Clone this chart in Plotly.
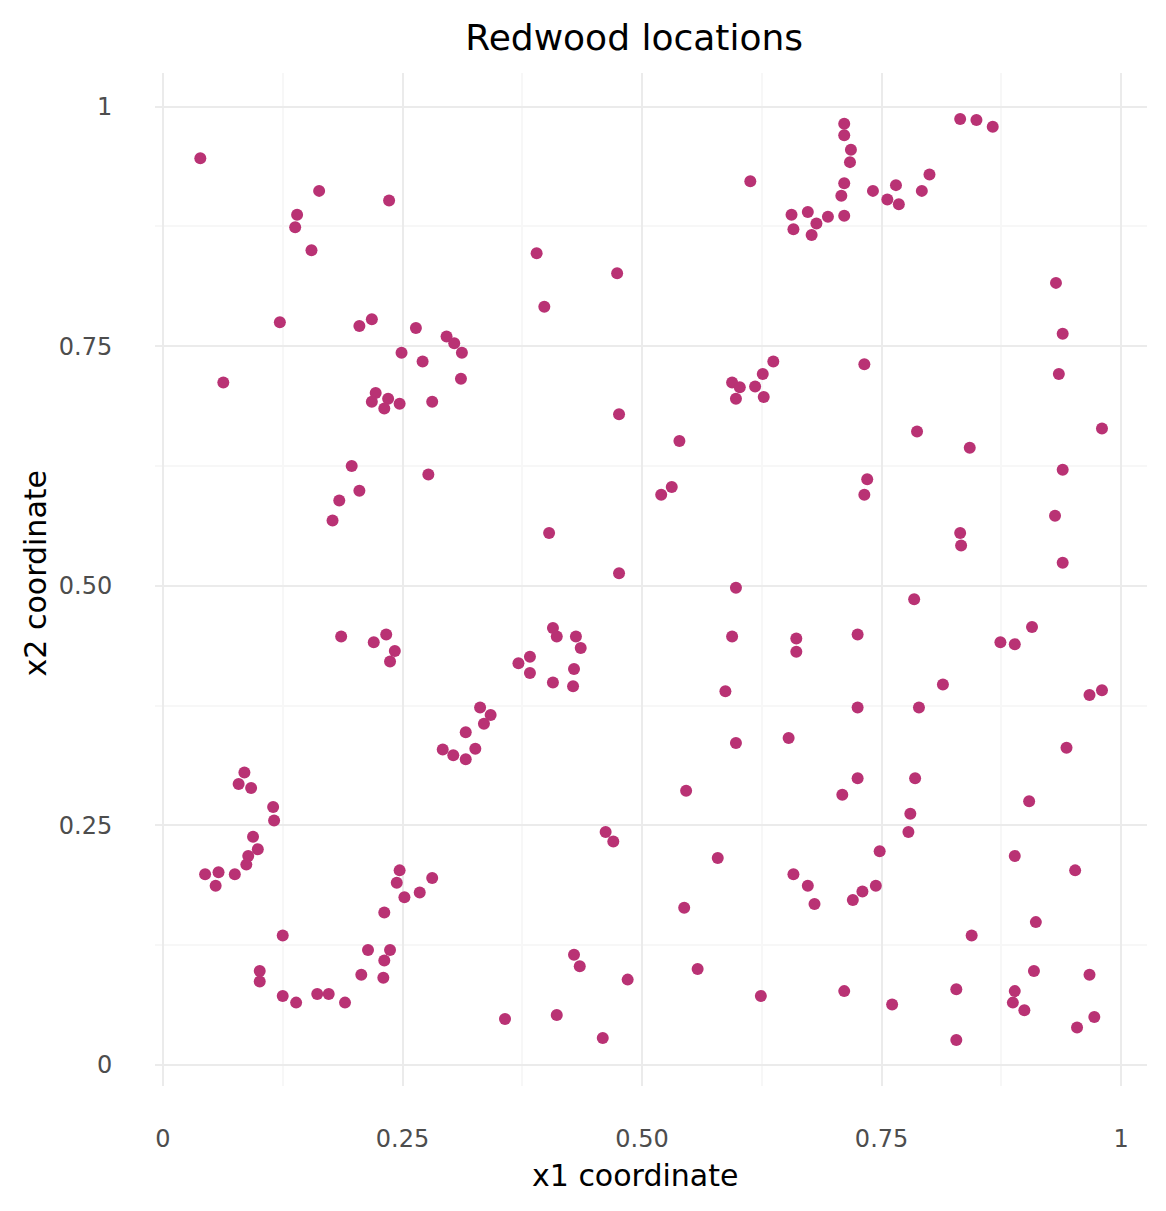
import plotly.graph_objects as go

# redwood locations
x1_top_left = [0.039, 0.163, 0.140, 0.138, 0.155, 0.236, 0.122, 0.063, 0.205, 0.218,
               0.264, 0.296, 0.304, 0.312, 0.249, 0.271, 0.311, 0.222, 0.218, 0.235,
               0.231, 0.247, 0.281, 0.197, 0.277, 0.184, 0.205, 0.177]
x2_top_left = [0.946, 0.912, 0.887, 0.874, 0.850, 0.902, 0.775, 0.712, 0.771, 0.778,
               0.769, 0.760, 0.753, 0.743, 0.743, 0.734, 0.716, 0.701, 0.692, 0.695,
               0.685, 0.690, 0.692, 0.625, 0.616, 0.589, 0.599, 0.568]

x1_mid_left = [0.186, 0.220, 0.233, 0.242, 0.237, 0.331, 0.335, 0.342, 0.316, 0.292,
               0.303, 0.326, 0.316]
x2_mid_left = [0.447, 0.441, 0.449, 0.432, 0.421, 0.373, 0.356, 0.365, 0.347, 0.329,
               0.323, 0.330, 0.319]

x1_centre = [0.539, 0.531, 0.520, 0.403, 0.476, 0.598, 0.407, 0.411, 0.431, 0.436,
             0.383, 0.371, 0.383, 0.429, 0.407, 0.428, 0.594, 0.661, 0.661, 0.587,
             0.598, 0.653]
x2_centre = [0.651, 0.603, 0.595, 0.555, 0.513, 0.498, 0.456, 0.447, 0.447, 0.435,
             0.426, 0.419, 0.409, 0.413, 0.399, 0.395, 0.447, 0.445, 0.431, 0.390,
             0.336, 0.341]

x1_top_mid = [0.613, 0.390, 0.474, 0.398, 0.637, 0.626, 0.594, 0.602, 0.618, 0.598,
              0.627, 0.476]
x2_top_mid = [0.922, 0.847, 0.826, 0.791, 0.734, 0.721, 0.712, 0.707, 0.708, 0.695,
              0.697, 0.679]

x1_top_right = [0.656, 0.673, 0.658, 0.677, 0.682, 0.694, 0.711, 0.708, 0.711, 0.717,
                0.718, 0.711, 0.711, 0.741, 0.756, 0.765, 0.768, 0.792, 0.800, 0.832,
                0.849, 0.866, 0.932, 0.939, 0.935, 0.732, 0.980]
x2_top_right = [0.887, 0.890, 0.872, 0.866, 0.878, 0.885, 0.886, 0.907, 0.920, 0.942,
                0.955, 0.970, 0.982, 0.912, 0.903, 0.918, 0.898, 0.912, 0.929, 0.987,
                0.986, 0.979, 0.816, 0.763, 0.721, 0.731, 0.664]

x1_mid_right = [0.787, 0.842, 0.939, 0.735, 0.732, 0.931, 0.832, 0.833, 0.939, 0.784,
                0.725, 0.874, 0.889, 0.907, 0.814, 0.967, 0.980, 0.725, 0.789, 0.943]
x2_mid_right = [0.661, 0.644, 0.621, 0.611, 0.595, 0.573, 0.555, 0.542, 0.524, 0.486,
                0.449, 0.441, 0.439, 0.457, 0.397, 0.386, 0.391, 0.373, 0.373, 0.331]

x1_low_left = [0.085, 0.079, 0.092, 0.115, 0.116, 0.094, 0.099, 0.089, 0.087, 0.075,
               0.058, 0.044, 0.055, 0.125, 0.101, 0.101, 0.125, 0.139, 0.161, 0.173,
               0.190, 0.207, 0.214, 0.237, 0.231, 0.230, 0.231, 0.247, 0.244, 0.252,
               0.268, 0.281]
x2_low_left = [0.305, 0.293, 0.289, 0.269, 0.255, 0.238, 0.225, 0.218, 0.209, 0.199,
               0.201, 0.199, 0.187, 0.135, 0.098, 0.087, 0.072, 0.065, 0.074, 0.074,
               0.065, 0.094, 0.120, 0.120, 0.109, 0.091, 0.159, 0.203, 0.190, 0.175,
               0.180, 0.195]

x1_low_mid = [0.546, 0.462, 0.470, 0.579, 0.544, 0.429, 0.435, 0.485, 0.558, 0.624,
              0.357, 0.411, 0.459]
x2_low_mid = [0.286, 0.243, 0.233, 0.216, 0.164, 0.115, 0.103, 0.089, 0.100, 0.072,
              0.048, 0.052, 0.028]

x1_low_right = [0.725, 0.709, 0.785, 0.780, 0.778, 0.748, 0.744, 0.730, 0.720, 0.658,
                0.673, 0.680, 0.904, 0.889, 0.952, 0.911, 0.844, 0.909, 0.967, 0.711,
                0.761, 0.828, 0.889, 0.887, 0.899, 0.972, 0.954, 0.828]
x2_low_right = [0.299, 0.282, 0.299, 0.262, 0.243, 0.223, 0.187, 0.181, 0.172, 0.199,
                0.187, 0.168, 0.275, 0.218, 0.203, 0.149, 0.135, 0.098, 0.094, 0.077,
                0.063, 0.079, 0.077, 0.065, 0.057, 0.050, 0.039, 0.026]

tick_vals = [0, 0.25, 0.5, 0.75, 1]
tick_text = ["0", "0.25", "0.50", "0.75", "1"]

x1 = (x1_top_left + x1_mid_left + x1_centre + x1_top_mid + x1_top_right
      + x1_mid_right + x1_low_left + x1_low_mid + x1_low_right)
x2 = (x2_top_left + x2_mid_left + x2_centre + x2_top_mid + x2_top_right
      + x2_mid_right + x2_low_left + x2_low_mid + x2_low_right)

fig = go.Figure(go.Scatter(x=x1, y=x2, mode="markers",
                           marker=dict(size=12, color="#B93274", line=dict(width=0)),
                           showlegend=False))

axis_style = dict(tickvals=tick_vals, ticktext=tick_text,
                  showgrid=True, gridcolor="#EBEBEB", gridwidth=2,
                  zeroline=False, showline=False,
                  ticks="outside", tickcolor="rgba(0,0,0,0)",
                  tickfont=dict(family="DejaVu Sans", size=24, color="#4D4D4D"),
                  minor=dict(tickvals=[0.125, 0.375, 0.625, 0.875], showgrid=True,
                             gridcolor="#F7F7F7", gridwidth=1.5, ticks=""),
                  automargin=False)

fig.update_xaxes(range=[-0.0083, 1.027], ticklen=31, **axis_style)
fig.update_yaxes(range=[-0.022, 1.035], ticklen=37, **axis_style)

# page body has an 8px margin, so the figure is a bit smaller than the window
fig.update_layout(
    width=1158, height=1203,
    margin=dict(l=147, r=19, t=65, b=125),
    paper_bgcolor="white", plot_bgcolor="white",
    title=dict(text="Redwood locations", x=0.483, xref="paper", xanchor="center",
               y=1 - 29 / 1203, yanchor="middle",
               font=dict(family="DejaVu Sans", size=36, color="black")),
    annotations=[
        dict(text="x1 coordinate", xref="paper", yref="paper", x=0.484, y=-0.088,
             showarrow=False, xanchor="center", yanchor="middle",
             font=dict(family="DejaVu Sans", size=30, color="black")),
        dict(text="x2 coordinate", xref="paper", yref="paper", x=-0.121, y=0.506,
             showarrow=False, xanchor="center", yanchor="middle", textangle=-90,
             font=dict(family="DejaVu Sans", size=30, color="black")),
    ],
)

fig.write_html("out.html")
